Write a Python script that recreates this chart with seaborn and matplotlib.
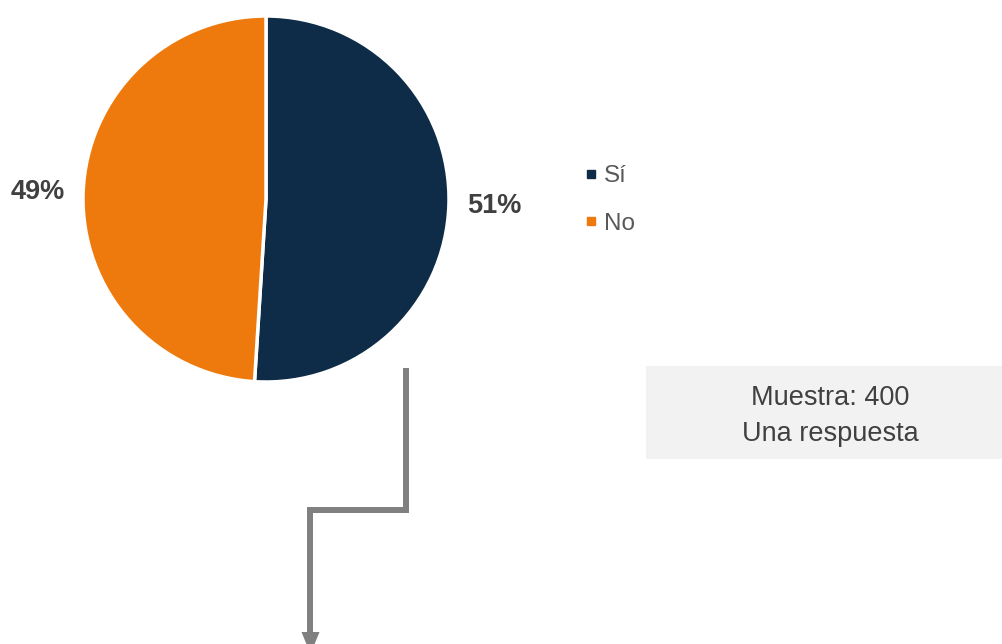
import matplotlib
matplotlib.use("Agg")
import matplotlib.pyplot as plt
from matplotlib.lines import Line2D
from matplotlib.patches import Rectangle, Polygon
import seaborn as sns

# Survey answers
categories = ["Sí", "No"]
shares = [51, 49]
sample_note = ["Muestra: 400", "Una respuesta"]

sns.set_theme(style="white")
plt.rcParams["font.family"] = ["Liberation Sans", "DejaVu Sans"]

colors = sns.color_palette(["#0E2C47", "#EE7A0E"])

fig = plt.figure(figsize=(10.02, 6.44), dpi=100)

# Overlay in pixel units for the connector and the note box
over = fig.add_axes([0, 0, 1, 1])
over.set_xlim(0, 1002)
over.set_ylim(644, 0)
over.axis("off")

# Pie
ax = fig.add_axes([83 / 1002, 1 - 382 / 644, 366 / 1002, 366 / 644])
wedges, texts, autotexts = ax.pie(
    shares,
    colors=colors,
    startangle=90,
    counterclock=False,
    radius=1,
    autopct="%.0f%%",
    pctdistance=1.25,
    wedgeprops=dict(edgecolor="white", linewidth=2.5),
    textprops=dict(fontsize=19.5, fontweight="bold", color="#404040"),
)
ax.set_xlim(-1, 1)
ax.set_ylim(-1, 1)
ax.set_aspect("equal")
ax.set_clip_on(False)
for a in autotexts:
    a.set_clip_on(False)

# Legend with square markers
handles = [
    Line2D([], [], marker="s", linestyle="none", markersize=5.5, markerfacecolor=c, markeredgecolor=c)
    for c in colors
]
fig.legend(
    handles, categories,
    loc="center left", bbox_to_anchor=(563 / 1002, 1 - 200 / 644),
    frameon=False, fontsize=17.5, labelcolor="#595959",
    handlelength=0.5, handletextpad=0.3, labelspacing=1.05,
)

# Stepped connector arrow
gray = "#808080"
over.plot([406.5, 406.5, 310.5, 310.5], [368, 509.5, 509.5, 634], color=gray, lw=4.3,
          solid_joinstyle="miter", solid_capstyle="butt")
over.add_patch(Polygon([[301.5, 632], [319.5, 632], [310.5, 654]], closed=True,
                       facecolor=gray, edgecolor="none"))

# Note box
over.add_patch(Rectangle((646, 366), 356, 93, facecolor="#F2F2F2", edgecolor="none"))
over.text(830, 398, sample_note[0], ha="center", va="center", fontsize=19.5, color="#404040")
over.text(830, 434, sample_note[1], ha="center", va="center", fontsize=19.5, color="#404040")

fig.savefig("out.png", dpi=100)
